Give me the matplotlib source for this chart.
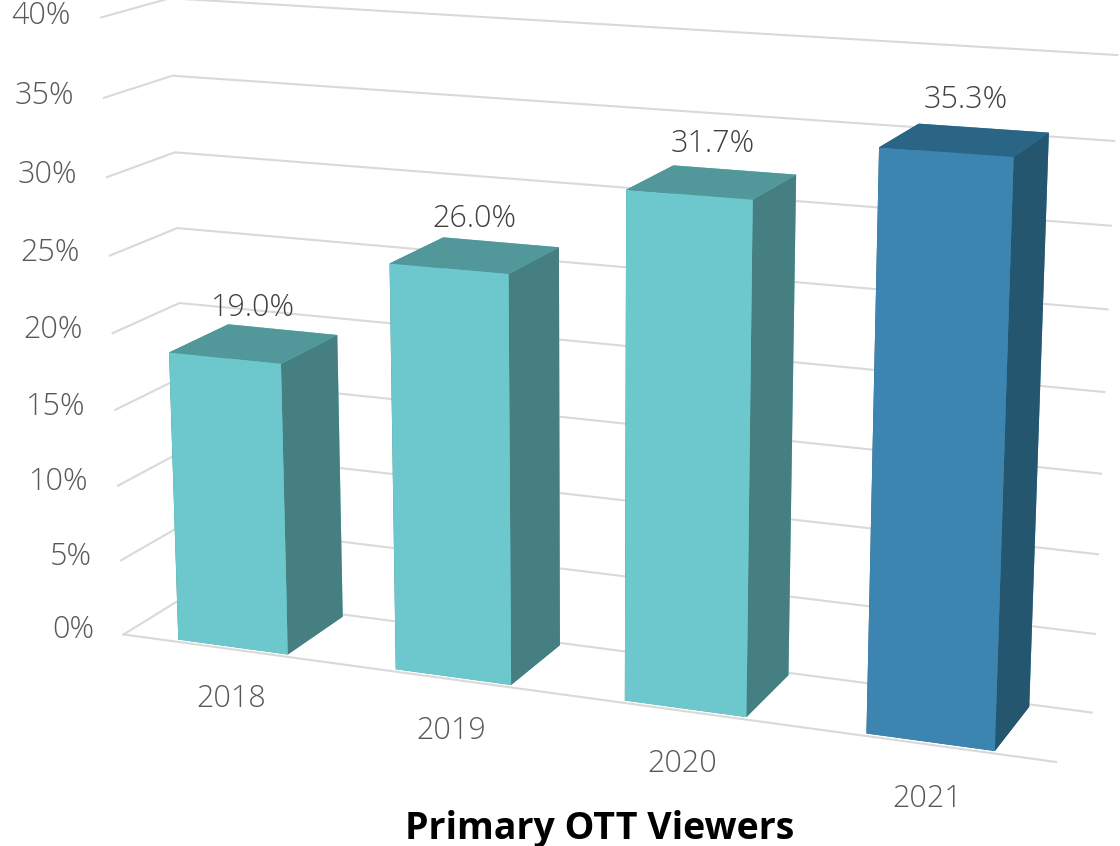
import matplotlib
matplotlib.use('Agg')
import matplotlib.pyplot as plt
import numpy as np
from mpl_toolkits.mplot3d import proj3d

years = ['2018', '2019', '2020', '2021']
values = [19.0, 26.0, 31.7, 35.3]
value_labels = ['19.0%', '26.0%', '31.7%', '35.3%']
yticks = [0, 5, 10, 15, 20, 25, 30, 35, 40]

front_c = ['#6CC8CC', '#6CC8CC', '#6CC8CC', '#3C85B1']
top_c = ['#52989B', '#52989B', '#52989B', '#2B6585']
side_c = ['#457F82', '#457F82', '#457F82', '#25566F']

plt.rcParams['font.family'] = ['Open Sans', 'DejaVu Sans']

fig = plt.figure(figsize=(11.2, 8.46), dpi=100)
ax = fig.add_axes([-0.0678, -0.2165, 1.1607, 1.5366], projection='3d', computed_zorder=False)
ax.set_proj_type('persp', focal_length=0.48)
ax.view_init(elev=14.4, azim=-68.4)
ax.set_axis_off()

# plot box: categories along x, depth along y, value along z
x0, x1 = -0.5, 3.5
depth = 0.54
ax.set_xlim(x0, x1)
ax.set_ylim(0, depth)
ax.set_zlim(0, 40)
ax.set_box_aspect((3.76, depth, 2.45), zoom=0.905)


def label(x, y, z, s, **kw):
    # project a 3D anchor to the axes' 2D coords, then place plain text there
    px, py, _ = proj3d.proj_transform(x, y, z, ax.get_proj())
    ax.text2D(px, py, s, transform=ax.transData, fontsize=22,
              fontweight='light', zorder=3, **kw)


grid = '#D9D9D9'
for t in yticks:
    # side wall + back wall gridline
    ax.plot([x0, x0, x1], [0, depth, depth], [t, t, t], color=grid, lw=1.5, zorder=1)
    label(x0 - 0.14, 0, t, f'{t}%', ha='right', va='center', color='#595959')
# floor front edge
ax.plot([x0, x1], [0, 0], [0, 0], color=grid, lw=1.5, zorder=1)

bw = 0.51
bd = 0.49
xs = np.arange(len(values)) - bw / 2
colors = []
for i in range(len(values)):
    # face order: bottom, top, front, back, left, right
    colors += [top_c[i], top_c[i], front_c[i], front_c[i], side_c[i], side_c[i]]
ax.bar3d(xs, np.full(len(values), (depth - bd) / 2), np.zeros(len(values)),
         bw, bd, values, color=colors, shade=False, zorder=2)

for i in range(len(values)):
    label(i, depth / 2, values[i] + 2.3, value_labels[i], ha='center', va='center',
          color='#404040')
    label(i, 0, -3.4, years[i], ha='center', va='center', color='#595959')

fig.text(0.535, 0.02, 'Primary OTT Viewers', ha='center', va='center',
         fontsize=27, fontweight='bold', color='black')

fig.savefig('out.png', dpi=100)
